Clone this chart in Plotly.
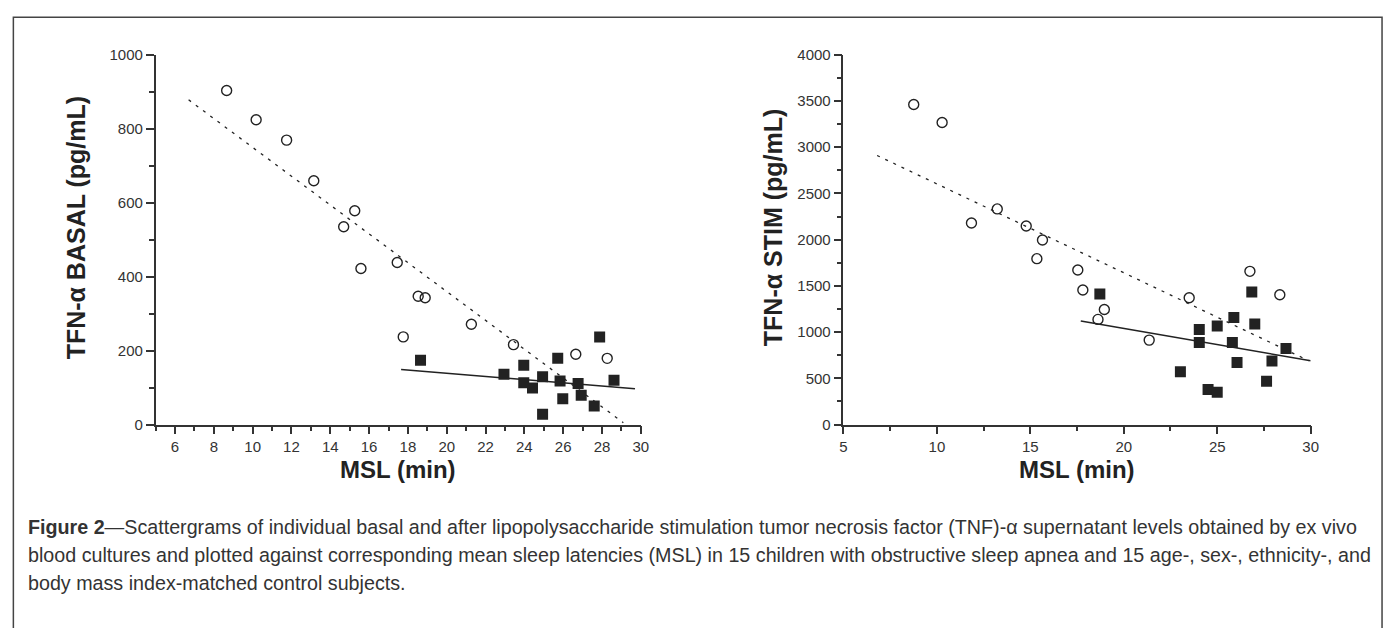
import plotly.graph_objects as go

# ---------------- data ----------------
# Left panel: basal TNF-alpha vs MSL
basal_ctrl_x = [8.66, 10.18, 11.75, 13.15, 15.26, 14.69, 15.58, 17.45, 17.76, 18.53, 18.89, 21.27, 23.44, 26.65, 28.27]
basal_ctrl_y = [903, 824, 769, 659, 578, 535, 422, 438, 237, 347, 343, 271, 216, 190, 179]
basal_osa_x = [18.65, 22.95, 23.97, 23.97, 24.42, 24.94, 24.94, 25.72, 25.84, 25.98, 26.77, 26.93, 27.6, 27.88, 28.62]
basal_osa_y = [174, 136, 160, 113, 99, 129, 28, 179, 118, 70, 111, 79, 50, 237, 120]
basal_dash_x = [6.7, 29.1]
basal_dash_y = [878, 5]
basal_solid_x = [17.65, 29.7]
basal_solid_y = [149, 97]

# Right panel: stimulated TNF-alpha vs MSL
stim_ctrl_x = [8.76, 10.28, 11.85, 13.23, 14.78, 15.65, 15.35, 17.54, 17.81, 18.62, 18.96, 21.36, 23.5, 26.75, 28.35]
stim_ctrl_y = [3462, 3267, 2180, 2332, 2148, 1996, 1794, 1671, 1455, 1137, 1245, 913, 1372, 1657, 1404]
stim_osa_x = [18.72, 23.03, 24.04, 24.04, 24.51, 25.0, 25.0, 25.89, 25.81, 26.06, 26.85, 27.01, 27.64, 27.93, 28.68]
stim_osa_y = [1411, 570, 1029, 888, 379, 1065, 350, 1159, 888, 671, 1433, 1087, 469, 686, 823]
stim_dash_x = [6.8, 29.9]
stim_dash_y = [2910, 690]
stim_solid_x = [17.7, 30.0]
stim_solid_y = [1119, 690]

left_xticks = list(range(6, 31, 2))
left_yticks = list(range(0, 1001, 200))
right_xticks = list(range(5, 31, 5))
right_yticks = list(range(0, 4001, 500))

x_title = "MSL (min)"
y_title_left = "TFN-α BASAL (pg/mL)"
y_title_right = "TFN-α STIM (pg/mL)"
caption = [
    "<b>Figure 2</b>—Scattergrams of individual basal and after lipopolysaccharide stimulation tumor necrosis factor (TNF)-α supernatant levels obtained by ex vivo",
    "blood cultures and plotted against corresponding mean sleep latencies (MSL) in 15 children with obstructive sleep apnea and 15 age-, sex-, ethnicity-, and",
    "body mass index-matched control subjects.",
]

# ---------------- figure ----------------
W, H = 1383, 620
OFF = 8
INK = "#222222"
AX = "#333333"
FONT = "Liberation Sans, Arial, sans-serif"
TICKFONT = dict(family=FONT, size=15, color=AX)

fig = go.Figure()

def add_panel(xa, ya, cx, cy, ox, oy, dx, dy, sx, sy):
    fig.add_trace(go.Scatter(x=dx, y=dy, mode="lines", xaxis=xa, yaxis=ya,
                             line=dict(color=INK, width=1.3, dash="3px,6px"), hoverinfo="skip"))
    fig.add_trace(go.Scatter(x=sx, y=sy, mode="lines", xaxis=xa, yaxis=ya,
                             line=dict(color=INK, width=1.5), hoverinfo="skip"))
    fig.add_trace(go.Scatter(x=cx, y=cy, mode="markers", xaxis=xa, yaxis=ya,
                             marker=dict(symbol="circle-open", size=10, color=INK, line=dict(width=1.4))))
    fig.add_trace(go.Scatter(x=ox, y=oy, mode="markers", xaxis=xa, yaxis=ya,
                             marker=dict(symbol="square", size=11, color=INK)))

add_panel("x", "y", basal_ctrl_x, basal_ctrl_y, basal_osa_x, basal_osa_y,
          basal_dash_x, basal_dash_y, basal_solid_x, basal_solid_y)
add_panel("x2", "y2", stim_ctrl_x, stim_ctrl_y, stim_osa_x, stim_osa_y,
          stim_dash_x, stim_dash_y, stim_solid_x, stim_solid_y)

# layout positions are given in window pixels, corrected for how the page is captured
def px(v):
    v = (v - 1.2) / 0.993
    return (v - OFF) / W

def py(v):
    v = (v - 9.5) / 0.973
    return 1 - (v - OFF) / H

axis_common = dict(showline=True, linecolor=AX, linewidth=1.5, ticks="outside",
                   tickcolor=AX, tickwidth=1.5, ticklen=8, showgrid=False, zeroline=False,
                   tickfont=TICKFONT)

L_X0, L_X1 = 153, 639
R_X0, R_X1 = 842, 1310
Y_TOP, Y_BOT = 55, 425

fig.update_layout(
    width=W, height=H, margin=dict(l=0, r=0, t=0, b=0),
    paper_bgcolor="white", plot_bgcolor="white", showlegend=False,
    xaxis=dict(domain=[px(L_X0), px(L_X1)], range=[5, 30], tickvals=left_xticks,
               minor=dict(dtick=1, tick0=5, ticklen=5, tickcolor=AX, tickwidth=1.5, ticks="outside"),
               anchor="y", **axis_common),
    yaxis=dict(domain=[py(Y_BOT), py(Y_TOP)], range=[0, 1000], tickvals=left_yticks,
               minor=dict(dtick=100, tick0=0, ticklen=5, tickcolor=AX, tickwidth=1.5, ticks="outside"),
               anchor="x", **axis_common),
    xaxis2=dict(domain=[px(R_X0), px(R_X1)], range=[5, 30], tickvals=right_xticks,
                minor=dict(dtick=2.5, tick0=5, ticklen=5, tickcolor=AX, tickwidth=1.5, ticks="outside"),
                anchor="y2", **axis_common),
    yaxis2=dict(domain=[py(Y_BOT), py(Y_TOP)], range=[0, 4000], tickvals=right_yticks,
                minor=dict(dtick=250, tick0=0, ticklen=5, tickcolor=AX, tickwidth=1.5, ticks="outside"),
                anchor="x2", **axis_common),
)

TITLEFONT = dict(family=FONT, size=24, color=INK)
YTITLEFONT = dict(family=FONT, size=25, color=INK)
ann = []
ann.append(dict(text=f"<b>{x_title}</b>", x=px((L_X0 + L_X1) / 2), y=py(470), xref="paper", yref="paper",
                showarrow=False, font=TITLEFONT, xanchor="center", yanchor="middle"))
ann.append(dict(text=f"<b>{x_title}</b>", x=px((R_X0 + R_X1) / 2), y=py(470), xref="paper", yref="paper",
                showarrow=False, font=TITLEFONT, xanchor="center", yanchor="middle"))
ann.append(dict(text=f"<b>{y_title_left}</b>", x=px(73), y=py(228), xref="paper", yref="paper",
                showarrow=False, font=YTITLEFONT, textangle=-90, xanchor="center", yanchor="middle"))
ann.append(dict(text=f"<b>{y_title_right}</b>", x=px(771), y=py(228), xref="paper", yref="paper",
                showarrow=False, font=YTITLEFONT, textangle=-90, xanchor="center", yanchor="middle"))
CAPFONT = dict(family=FONT, size=19.7, color="#333333")
for i, line in enumerate(caption):
    ann.append(dict(text=line, x=px(23), y=py(528 + 28 * i), xref="paper", yref="paper",
                    showarrow=False, font=CAPFONT, xanchor="left", yanchor="middle", align="left"))
fig.update_layout(annotations=ann)

fig.add_shape(type="rect", xref="paper", yref="paper", x0=0.001, x1=0.9993, y0=-0.05, y1=0.9995,
              line=dict(color="#444444", width=1.5), fillcolor="rgba(0,0,0,0)", layer="below")

fig.write_html("out.html", config={"displayModeBar": False})
